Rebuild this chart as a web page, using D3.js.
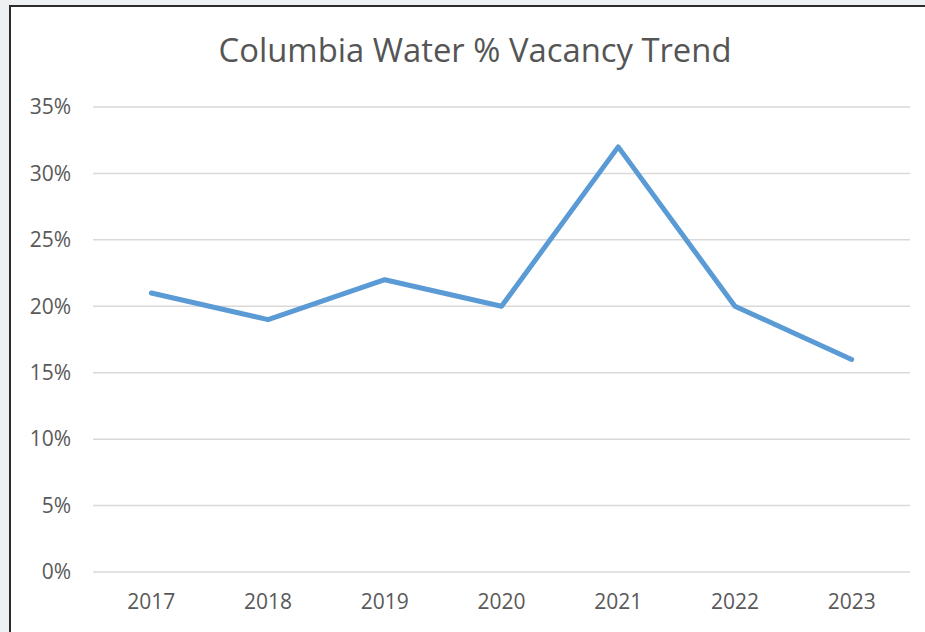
<!DOCTYPE html>
<html>
<head>
<meta charset="utf-8">
<script src="https://cdn.jsdelivr.net/npm/d3@7"></script>
<style>
  body { margin: 0; background: #eef1f4; }
  svg { display: block; }
</style>
</head>
<body>
<div id="container"></div>
<script>
// chart data
const years = ["2017", "2018", "2019", "2020", "2021", "2022", "2023"];
const vacancy = [0.21, 0.19, 0.22, 0.20, 0.32, 0.20, 0.16];
const yTicks = [0, 0.05, 0.10, 0.15, 0.20, 0.25, 0.30, 0.35];
const title = "Columbia Water % Vacancy Trend";

const width = 925;
const height = 632;
const font = "'Open Sans', sans-serif";

const svg = d3.create("svg")
  .attr("width", width)
  .attr("height", height);

// chart area background + frame
svg.append("rect")
  .attr("x", 10)
  .attr("y", 6)
  .attr("width", width)
  .attr("height", height)
  .attr("fill", "white")
  .attr("stroke", "#2b2b2b")
  .attr("stroke-width", 2);

// scales
const x = d3.scaleBand()
  .domain(years)
  .range([93, 910]);

const y = d3.scaleLinear()
  .domain([0, 0.35])
  .range([572, 107]);

// gridlines
svg.append("g")
  .selectAll("line")
  .data(yTicks)
  .join("line")
  .attr("x1", 93)
  .attr("x2", 910)
  .attr("y1", d => y(d))
  .attr("y2", d => y(d))
  .attr("stroke", "#d9d9d9")
  .attr("stroke-width", 1.5);

// y axis labels
const yAxis = svg.append("g")
  .attr("transform", "translate(71,0)")
  .call(d3.axisLeft(y).tickValues(yTicks).tickFormat(d3.format(".0%")).tickSize(0).tickPadding(0));
yAxis.select(".domain").remove();
yAxis.selectAll("text")
  .attr("fill", "#595959")
  .attr("font-family", font)
  .attr("font-size", 21);

// x axis labels
const xAxis = svg.append("g")
  .attr("transform", "translate(0,572)")
  .call(d3.axisBottom(x).tickSize(0).tickPadding(22));
xAxis.select(".domain").remove();
xAxis.selectAll("text")
  .attr("fill", "#595959")
  .attr("font-family", font)
  .attr("font-size", 21);

// line
const line = d3.line()
  .x((d, i) => x(years[i]) + x.bandwidth() / 2)
  .y(d => y(d));

svg.append("path")
  .datum(vacancy)
  .attr("d", line)
  .attr("fill", "none")
  .attr("stroke", "#5b9bd5")
  .attr("stroke-width", 5)
  .attr("stroke-linejoin", "round")
  .attr("stroke-linecap", "round");

// title
svg.append("text")
  .attr("x", 475)
  .attr("y", 62)
  .attr("text-anchor", "middle")
  .attr("fill", "#555555")
  .attr("font-family", font)
  .attr("font-size", 32.8)
  .text(title);

container.append(svg.node());
</script>
</body>
</html>
